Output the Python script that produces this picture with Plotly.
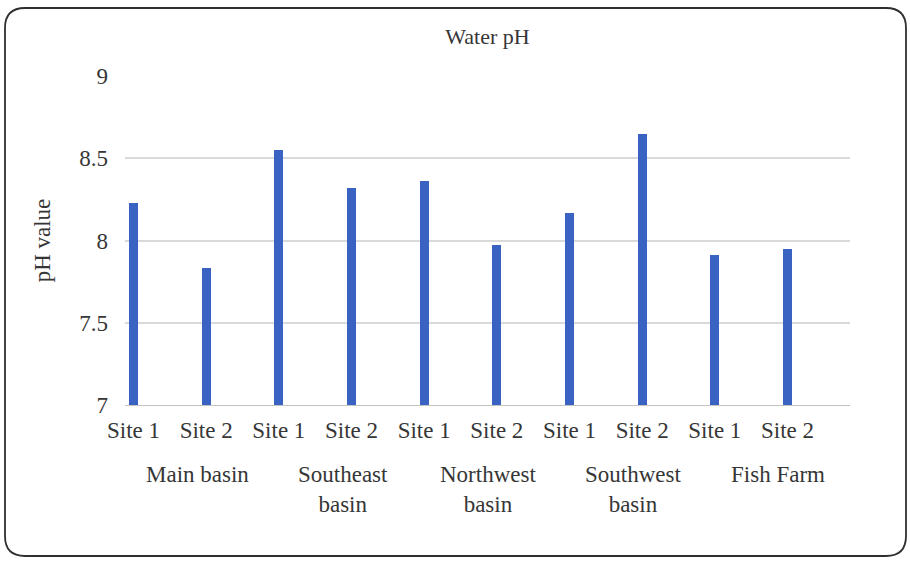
import plotly.graph_objects as go

# Water pH readings, two sampling sites per basin
groups = ["Main basin", "Southeast<br>basin", "Northwest<br>basin", "Southwest<br>basin", "Fish Farm"]
sites = ["Site 1", "Site 2"]
ph_values = [8.23, 7.83, 8.55, 8.32, 8.36, 7.97, 8.17, 8.65, 7.91, 7.95]
y_ticks = [7, 7.5, 8, 8.5, 9]
y_tick_text = ["7", "7.5", "8", "8.5", "9"]

W, H = 910, 562
ML, MR, MT, MB = 125, 60, 76, 157
PW, PH = W - ML - MR, H - MT - MB

FONT = "Times New Roman, Liberation Serif, serif"
TXT = "#363636"

# one category per (basin, site) pair, labelled only by site on the axis
cats = []
site_labels = []
for g in groups:
    for s in sites:
        cats.append(g.replace("<br>", " ") + " | " + s)
        site_labels.append(s)

fig = go.Figure()
fig.add_trace(go.Bar(
    x=cats, y=ph_values,
    width=0.125,
    marker=dict(color="#3a62c2", line=dict(width=0)),
    hovertemplate="%{x}: %{y}<extra></extra>",
))


def px_to_paper(px, py):
    return (px - ML) / PW, (H - MB - py) / PH


def rounded_rect(x0, y0, x1, y1, r):
    def p(px, py):
        x, y = px_to_paper(px, py)
        return f"{x:.5f},{y:.5f}"
    pts = [
        "M " + p(x0 + r, y0),
        "L " + p(x1 - r, y0),
        "Q " + p(x1, y0) + " " + p(x1, y0 + r),
        "L " + p(x1, y1 - r),
        "Q " + p(x1, y1) + " " + p(x1 - r, y1),
        "L " + p(x0 + r, y1),
        "Q " + p(x0, y1) + " " + p(x0, y1 - r),
        "L " + p(x0, y0 + r),
        "Q " + p(x0, y0) + " " + p(x0 + r, y0),
        "Z",
    ]
    return " ".join(pts)


fig.add_shape(type="path", xref="paper", yref="paper",
              path=rounded_rect(5, 8, 906, 556, 20),
              line=dict(color="#2f2f2f", width=1.8), fillcolor="rgba(0,0,0,0)",
              layer="below")

# basin names spread evenly beneath the site labels
for i, g in enumerate(groups):
    fig.add_annotation(
        x=(i + 0.5) / len(groups), xref="x domain",
        y=-(460 - (H - MB)) / PH, yref="paper",
        text=g, showarrow=False, yanchor="top", xanchor="center",
        font=dict(family=FONT, size=23, color=TXT),
    )

fig.update_layout(
    width=W, height=H,
    margin=dict(l=ML, r=MR, t=MT, b=MB),
    paper_bgcolor="white", plot_bgcolor="white",
    showlegend=False,
    bargap=0,
    title=dict(text="Water pH", x=0.5, xref="paper", xanchor="center",
               y=1 - 36 / H, yanchor="middle",
               font=dict(family=FONT, size=22, color=TXT)),
    font=dict(family=FONT, size=23, color=TXT),
)

fig.update_xaxes(
    type="category",
    range=[-0.117, 9.86],
    tickmode="array", tickvals=cats, ticktext=site_labels,
    showgrid=False, showline=True, linecolor="#c2c2c2", linewidth=1.3,
    ticks="", tickfont=dict(family=FONT, size=23, color=TXT),
    ticklabelstandoff=4,
)
fig.update_yaxes(
    range=[7, 9],
    tickmode="array", tickvals=y_ticks, ticktext=y_tick_text,
    showgrid=True, gridcolor="#d9d9d9", gridwidth=1.5,
    zeroline=False, showline=False, ticks="",
    tickfont=dict(family=FONT, size=23, color=TXT),
    ticklabelstandoff=16,
    title=dict(text="pH value", font=dict(family=FONT, size=23, color=TXT), standoff=22),
)

fig.write_html("out.html")
